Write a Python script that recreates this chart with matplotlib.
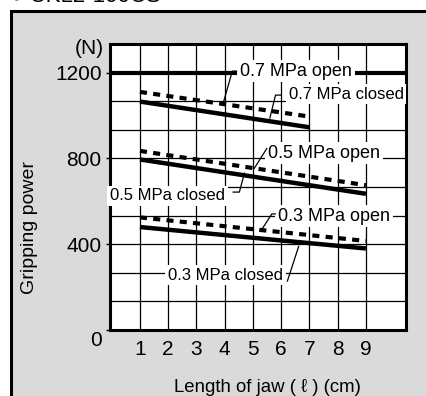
import numpy as np
import matplotlib.pyplot as plt
from matplotlib.patches import Rectangle
from matplotlib.transforms import ScaledTranslation

# jaw length (cm) and gripping power (N)
jaw_07 = [1, 7]
jaw_05 = [1, 9]
jaw_03 = [1, 9]
open_07 = [1110, 995]
closed_07 = [1065, 945]
open_05 = [835, 675]
closed_05 = [795, 635]
open_03 = [525, 415]
closed_03 = [480, 380]

x_ticks = [1, 2, 3, 4, 5, 6, 7, 8, 9]
y_ticks = [0, 400, 800, 1200]
y_grid = [k * 400 / 3 for k in range(1, 10)]

plt.rcParams['font.family'] = ['Liberation Sans', 'DejaVu Sans']

fig = plt.figure(figsize=(4.26, 3.96), dpi=100)
fig.patch.set_facecolor('white')
fig.add_artist(Rectangle((11 / 426, -0.1), 1.2, 1 - 11 / 396 + 0.1,
                         transform=fig.transFigure, facecolor='#dadada',
                         edgecolor='black', lw=2.2, zorder=0))
fig.text(10 / 426, 1 - 2 / 396, '● CKL2-100CS', fontsize=16, va='baseline')

ax = fig.add_axes([110 / 426, 66 / 396, 296 / 426, 286 / 396])
ax.set_facecolor('white')
ax.set_xlim(-0.06, 10.42)
ax.set_ylim(0, 4000 / 3)

for g in y_grid:
    ax.axhline(g, color='black', lw=0.9, zorder=1)
for t in x_ticks:
    ax.axvline(t, color='black', lw=0.9, zorder=1)
ax.axhline(1200, color='black', lw=3.0, zorder=1.5)

solid = dict(color='black', lw=3.2, solid_capstyle='butt', zorder=4)
dashed = dict(color='black', lw=3.0, linestyle=(0, (1.7, 1.5)), dash_capstyle='butt', zorder=4)
ax.plot(jaw_07, open_07, **dashed)
ax.plot(jaw_07, closed_07, **solid)
ax.plot(jaw_05, open_05, **dashed)
ax.plot(jaw_05, closed_05, **solid)
ax.plot(jaw_03, open_03, **dashed)
ax.plot(jaw_03, closed_03, **solid)


def label(txt, tx, ty, size, xs, ys, start, corner, target_x, dy=0):
    ax.text(tx, ty, txt, fontsize=size, ha='left', va='center',
            bbox=dict(fc='white', ec='none', pad=2), zorder=3, clip_on=False)
    ty_end = np.interp(target_x, xs, ys) + dy
    px = [start[0]] + ([corner[0]] if corner else []) + [target_x]
    py = [start[1]] + ([corner[1]] if corner else []) + [ty_end]
    ax.plot(px, py, color='black', lw=0.9, zorder=3.5, clip_on=False)


label('0.7 MPa open', 4.54, 1207, 13, jaw_07, open_07, (4.42, 1207), (4.27, 1207), 3.94)
label('0.7 MPa closed', 6.26, 1100, 12, jaw_07, closed_07, (5.98, 1095), (5.80, 1095), 5.60, 15)
label('0.5 MPa open', 5.53, 825, 13, jaw_05, open_05, (5.49, 846), None, 5.05)
label('0.5 MPa closed', -0.06, 625, 12, jaw_05, closed_05, (4.30, 643), (4.52, 643), 4.70, 10)
label('0.3 MPa open', 5.89, 531, 13, jaw_03, open_03, (5.79, 541), (5.67, 541), 5.30)
label('0.3 MPa closed', 2.0, 256, 12, jaw_03, closed_03, (6.22, 228), None, 6.62, -20)

ax.set_xticks(x_ticks)
ax.set_yticks(y_ticks)
ax.tick_params(axis='x', length=0, pad=7, labelsize=15)
ax.tick_params(axis='y', length=3, width=1, pad=3, labelsize=15)
zero = ax.get_yticklabels()[0]
zero.set_transform(zero.get_transform() + ScaledTranslation(0, -0.08, fig.dpi_scale_trans))
for s in ax.spines.values():
    s.set_linewidth(2.2)
    s.set_zorder(2.5)

fig.text(104 / 426, 1 - 48 / 396, '(N)', fontsize=15, ha='right', va='center')
fig.text(30 / 426, 1 - 228 / 396, 'Gripping power', fontsize=14, rotation=90,
         ha='center', va='center')
fig.text(267 / 426, 1 - 388 / 396, 'Length of jaw ( ℓ ) (cm)', fontsize=13.4,
         ha='center', va='center')

fig.savefig('out.png', dpi=100, facecolor=fig.get_facecolor())
